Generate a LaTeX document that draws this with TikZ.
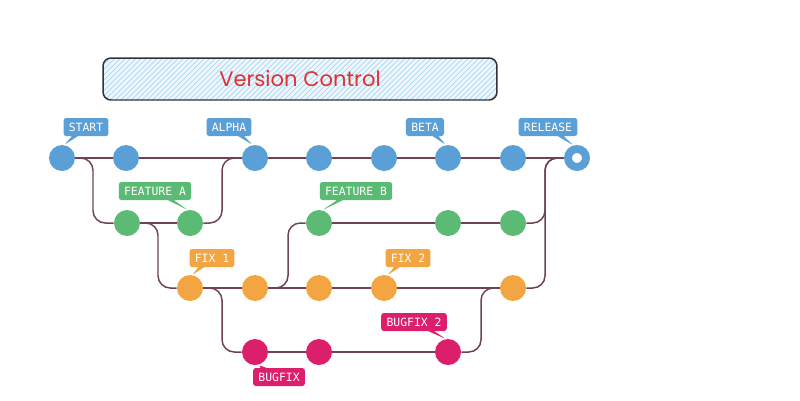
\documentclass[tikz,border=0pt]{standalone}
\usepackage{fontspec}
\newfontfamily\titlefont{Poppins}
\newfontfamily\tagfont{DejaVu Sans Mono}
\usepackage{tikz}
\usetikzlibrary{calc,
	shapes.callouts,
	patterns,
	backgrounds}

\definecolor{vcblue}{HTML}{5A9FD6}
\definecolor{vcgreen}{HTML}{5BBA74}
\definecolor{vcorange}{HTML}{F2A541}
\definecolor{vcpink}{HTML}{DC1F6C}
\definecolor{vcline}{HTML}{6E4452}
\definecolor{vcred}{HTML}{E03131}
\definecolor{vcsky}{HTML}{EEF7FD}
\definecolor{vchatch}{HTML}{A9D6F5}

\tikzset{
	commit/.style={circle,fill=#1,minimum size=0.52cm,inner sep=0pt},
	tag/.style={rectangle callout,fill=#1,text=white,rounded corners=1.5pt,
		font=\tagfont\fontsize{6.5}{7}\selectfont,minimum height=0.36cm,
		inner xsep=3pt,inner ysep=0pt,callout pointer width=0.12cm},
	branch/.style={draw=vcline,line width=0.85pt,rounded corners=7pt},
	titlebox/.style={draw=black!80,line width=0.85pt,rounded corners=4.5pt,
		preaction={fill=vcsky},pattern=north east lines,pattern color=vchatch,
		minimum width=7.88cm,minimum height=0.84cm,text=vcred,
		font=\titlefont\fontsize{12}{14}\selectfont}
}

\begin{document}
\begin{tikzpicture}[x=0.02cm,y=-0.02cm]
        \useasboundingbox (0,0) rectangle (800,400);

        %title
        \node[titlebox] (title) at (300,79) {Version Control};

        %main line
        \node[commit=vcblue] (s1) at (62,158) {};
        \node[commit=vcblue] (s2) at (126,158) {};
        \node[commit=vcblue] (s3) at (255,158) {};
        \node[commit=vcblue] (s4) at (319,158) {};
        \node[commit=vcblue] (s5) at (384,158) {};
        \node[commit=vcblue] (s6) at (448,158) {};
        \node[commit=vcblue] (s7) at (513,158) {};
        \node[commit=white,draw=vcblue,line width=4.5pt,minimum size=0.36cm] (s8) at (577,158) {};

        %feature A / feature B
        \node[commit=vcgreen] (f1) at (127,223) {};
        \node[commit=vcgreen] (f2) at (190,223) {};
        \node[commit=vcgreen] (g1) at (319,223) {};
        \node[commit=vcgreen] (g2) at (448,223) {};
        \node[commit=vcgreen] (g3) at (513,223) {};

        %fixes
        \node[commit=vcorange] (x1) at (190,288) {};
        \node[commit=vcorange] (x2) at (255,288) {};
        \node[commit=vcorange] (x3) at (319,288) {};
        \node[commit=vcorange] (x4) at (384,288) {};
        \node[commit=vcorange] (x5) at (513,288) {};

        %bugfixes
        \node[commit=vcpink] (b1) at (255,352) {};
        \node[commit=vcpink] (b2) at (319,352) {};
        \node[commit=vcpink] (b3) at (448,352) {};

        %tags
        \node[tag=vcblue,callout absolute pointer={(s1.80)}] (tstart) at (86,127) {START};
        \node[tag=vcblue,callout absolute pointer={(s3.100)}] (talpha) at (229,127) {ALPHA};
        \node[tag=vcblue,callout absolute pointer={(s6.100)}] (tbeta) at (425,127) {BETA};
        \node[tag=vcblue,callout absolute pointer={(s8.105)}] (trelease) at (548,127) {RELEASE};
        \node[tag=vcgreen,callout absolute pointer={(f2.100)}] (tfeata) at (155,191) {FEATURE A};
        \node[tag=vcgreen,callout absolute pointer={(g1.75)}] (tfeatb) at (356,191) {FEATURE B};
        \node[tag=vcorange,callout absolute pointer={(x1.80)}] (tfix1) at (212,258) {FIX 1};
        \node[tag=vcorange,callout absolute pointer={(x4.75)}] (tfix2) at (408,258) {FIX 2};
        \node[tag=vcpink,callout absolute pointer={(b3.100)}] (tbug2) at (414,322) {BUGFIX 2};
        \node[tag=vcpink,callout absolute pointer={(b1.285)}] (tbug1) at (279,377) {BUGFIX};

        \begin{scope}[on background layer]
        \draw[branch] (s1)--(s2)--(s3)--(s4)--(s5)--(s6)--(s7)--(s8);
        \draw[branch] (s1) -| ($(f1)+(-34,0)$) -- (f1);
        \draw[branch] (f1)--(f2);
        \draw[branch] (f2) -| ($(s3)+(-33,0)$) -- (s3);
        \draw[branch] (f1) -| ($(x1)+(-32,0)$) -- (x1);
        \draw[branch] (x1)--(x2)--(x3)--(x4)--(x5);
        \draw[branch] (x1) -| ($(b1)+(-33,0)$) -- (b1);
        \draw[branch] (b1)--(b2)--(b3);
        \draw[branch] (b3) -| ($(x5)+(-32,0)$) -- (x5);
        \draw[branch] (x2) -| ($(g1)+(-31,0)$) -- (g1);
        \draw[branch] (g1)--(g2)--(g3);
        \draw[branch] (g3) -| ($(s8)+(-32,0)$) -- (s8);
        \draw[branch] (x5) -| ($(s8)+(-32,0)$) -- (s8);
        \end{scope}
\end{tikzpicture}
\end{document}
